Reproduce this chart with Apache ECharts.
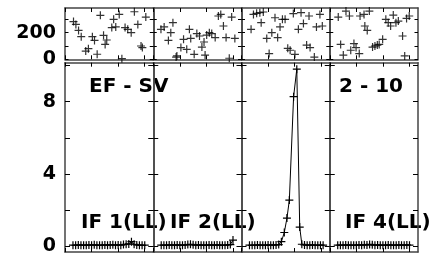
<!DOCTYPE html>
<html>
<head>
<meta charset="utf-8">
<script src="https://cdn.jsdelivr.net/npm/echarts@6/dist/echarts.min.js"></script>
<style>
  html, body { margin: 0; padding: 0; background: #fff; }
  #chart { width: 432px; height: 258px; }
</style>
</head>
<body>
<div id="chart"></div>
<script>
// top row: scatter of counts (0..~380), one array pair per panel
const top1X = [3.2, 4.1, 5.1, 6.1, 7.8, 8.8, 10.3, 11.1, 12.1, 13.3, 14.5, 15.1, 15.7, 17.6, 18.3, 19.1, 20.4, 21.4, 22.6, 23.6, 24.9, 26.1, 27.4, 28.6, 29.1, 30.4];
const top1Y = [283, 262, 217, 170, 62, 80, 170, 142, 38, 330, 180, 112, 145, 238, 300, 243, 337, 5, 238, 225, 200, 357, 262, 100, 88, 317];
const top2X = [2.9, 4.1, 5.7, 6.6, 7.4, 8.6, 8.9, 10.4, 11.4, 12.6, 13.6, 14.1, 15.4, 16.4, 17.4, 18.3, 19.1, 19.5, 20.1, 21.1, 22.0, 23.3, 24.5, 25.4, 26.4, 27.4, 28.6, 29.5, 30.7];
const top2Y = [225, 243, 142, 200, 275, 17, 25, 88, 150, 75, 225, 157, 37, 193, 175, 92, 130, 32, 182, 200, 193, 163, 325, 337, 250, 163, 8, 317, 157];
const top3X = [3.6, 4.5, 5.7, 6.9, 7.4, 8.2, 9.5, 10.4, 11.4, 12.6, 13.6, 14.5, 15.4, 16.4, 17.4, 18.3, 19.5, 20.1, 21.4, 22.4, 23.3, 24.5, 25.4, 25.8, 27.4, 28.2, 29.5, 30.4];
const top3Y = [225, 337, 345, 350, 275, 355, 157, 43, 200, 312, 163, 243, 300, 300, 82, 68, 343, 37, 225, 350, 268, 107, 325, 88, 17, 243, 337, 250];
const top4X = [3.2, 4.1, 5.1, 6.1, 7.4, 7.9, 9.1, 9.9, 11.1, 11.4, 12.9, 13.2, 14.1, 14.9, 16.1, 17.0, 17.9, 18.6, 19.9, 21.1, 22.0, 22.9, 23.9, 24.9, 25.8, 27.4, 28.2, 28.9, 29.9];
const top4Y = [317, 112, 32, 362, 325, 68, 118, 88, 43, 325, 337, 250, 217, 362, 92, 100, 107, 112, 150, 300, 275, 250, 332, 275, 287, 175, 25, 307, 325];

// bottom row: profiles (0..10)
const bot1X = [3, 4, 5, 6, 7, 8, 9, 10, 11, 12, 13, 14, 15, 16, 17, 18, 19, 20, 21, 22, 23, 24, 25, 26, 27, 28, 29, 30];
const bot1Y = [0.05, 0.04, 0.06, 0.05, 0.05, 0.04, 0.06, 0.05, 0.07, 0.05, 0.04, 0.05, 0.06, 0.05, 0.06, 0.07, 0.05, 0.06, 0.05, 0.08, 0.1, 0.12, 0.24, 0.1, 0.06, 0.05, 0.04, 0.05];
const bot2X = [3, 4, 5, 6, 7, 8, 9, 10, 11, 12, 13, 14, 15, 16, 17, 18, 19, 20, 21, 22, 23, 24, 25, 26, 27, 28, 29, 30];
const bot2Y = [0.05, 0.05, 0.04, 0.06, 0.05, 0.05, 0.06, 0.05, 0.04, 0.06, 0.08, 0.1, 0.07, 0.05, 0.06, 0.05, 0.05, 0.04, 0.06, 0.05, 0.05, 0.06, 0.05, 0.04, 0.05, 0.06, 0.08, 0.33];
const bot3X = [3, 4, 5, 6, 7, 8, 9, 10, 11, 12, 13, 14, 15, 16.1, 17.1, 18.0, 19.6, 20.8, 21.9, 22.7, 23.7, 24.7, 25.7, 26.7, 27.7, 28.7, 29.7, 30.7];
const bot3Y = [0.05, 0.04, 0.05, 0.06, 0.05, 0.05, 0.04, 0.06, 0.05, 0.05, 0.06, 0.08, 0.24, 0.75, 1.55, 2.55, 8.28, 9.8, 1.05, 0.1, 0.06, 0.05, 0.05, 0.06, 0.05, 0.04, 0.05, 0.05];
const bot4X = [3, 4, 5, 6, 7, 8, 9, 10, 11, 12, 13, 14, 15, 16, 17, 18, 19, 20, 21, 22, 23, 24, 25, 26, 27, 28, 29, 30];
const bot4Y = [0.05, 0.05, 0.04, 0.06, 0.05, 0.05, 0.04, 0.05, 0.06, 0.05, 0.07, 0.06, 0.09, 0.07, 0.05, 0.06, 0.05, 0.04, 0.05, 0.06, 0.05, 0.05, 0.04, 0.06, 0.05, 0.05, 0.06, 0.05];

const topTicks = [0, 100, 200, 300];
const topLabels = [0, 200];
const botTicks = [0, 2, 4, 6, 8, 10];
const botLabels = [0, 4, 8];
const xTicks = [0, 10, 20, 30];

const topRows = [[top1X, top1Y], [top2X, top2Y], [top3X, top3Y], [top4X, top4Y]];
const botRows = [[bot1X, bot1Y], [bot2X, bot2Y], [bot3X, bot3Y], [bot4X, bot4Y]];

const FONT = 'DejaVu Sans';
const CROSS = 'path://M4,0L4,8M0,4L8,4';
const FRAME = '#444';

let grids = [], xAxes = [], yAxes = [], series = [];

function addPanel(i, top, height, yMin, yMax, yTicks, yLabels, yTickLen, xs, ys, isLine) {
  const g = grids.length;
  grids.push({left: 65 + i * 88.25, top: top, width: 88.25, height: height});

  ['bottom', 'top'].forEach(pos => {
    xAxes.push({
      gridIndex: g, type: 'value', min: 0, max: 33.2, position: pos,
      axisLine: {show: true, onZero: false, lineStyle: {color: FRAME, width: 1.5}},
      axisTick: {show: true, inside: true, length: 4, customValues: xTicks, lineStyle: {color: '#000', width: 1}},
      axisLabel: {show: false},
      splitLine: {show: false}
    });
  });
  ['left', 'right'].forEach(pos => {
    const lab = (i === 0 && pos === 'left');
    yAxes.push({
      gridIndex: g, type: 'value', min: yMin, max: yMax, position: pos,
      axisLine: {show: true, onZero: false, lineStyle: {color: FRAME, width: 1.5}},
      axisTick: {show: true, inside: true, length: yTickLen, customValues: yTicks, lineStyle: {color: '#000', width: 1}},
      axisLabel: {
        show: lab, customValues: yLabels, margin: 9,
        fontFamily: FONT, fontWeight: 'bold', fontSize: 19, color: '#000'
      },
      splitLine: {show: false}
    });
  });

  const data = xs.map((x, k) => [x, ys[k]]);
  series.push({
    type: isLine ? 'line' : 'scatter',
    xAxisIndex: g * 2, yAxisIndex: g * 2,
    data: data,
    symbol: CROSS, symbolSize: 8,
    showAllSymbol: true,
    clip: false,
    itemStyle: {color: '#000', borderColor: '#000', borderWidth: 1.2},
    lineStyle: {color: '#000', width: 1},
    animation: false,
    silent: true
  });
}

for (let i = 0; i < 4; i++) {
  addPanel(i, 8, 51.3, 0, 385, topTicks, topLabels, 3.5, topRows[i][0], topRows[i][1], false);
}
for (let i = 0; i < 4; i++) {
  addPanel(i, 62.7, 189.3, -0.33, 10.16, botTicks, botLabels, 5, botRows[i][0], botRows[i][1], true);
}

const labelFont = 'bold 20px "DejaVu Sans"';
function panelText(txt, x, y) {
  return {type: 'text', x: x, y: y, silent: true,
    style: {text: txt, font: labelFont, fill: '#000', verticalAlign: 'middle'}};
}

const chart = echarts.init(document.getElementById('chart'));
chart.setOption({
  animation: false,
  backgroundColor: '#fff',
  grid: grids,
  xAxis: xAxes,
  yAxis: yAxes,
  series: series,
  graphic: [
    panelText('EF - SV', 89, 87),
    panelText('2 - 10', 339, 87),
    panelText('IF 1(LL)', 81, 223),
    panelText('IF 2(LL)', 170, 223),
    panelText('IF 4(LL)', 345, 223)
  ]
});
</script>
</body>
</html>
